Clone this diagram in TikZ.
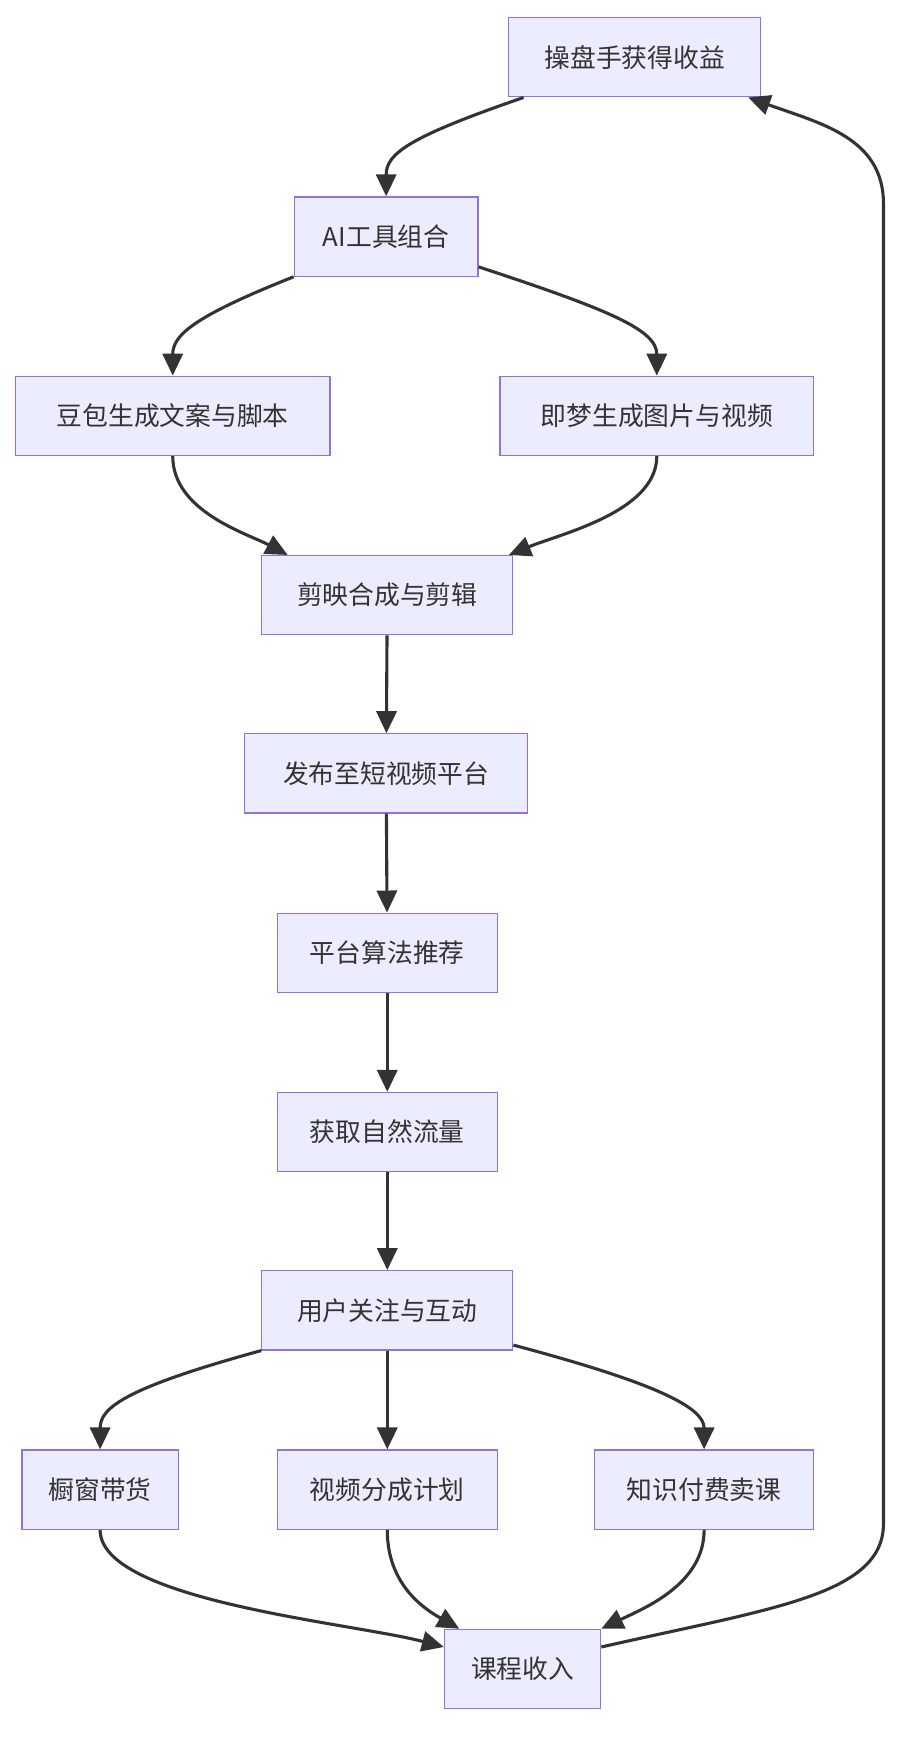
\documentclass[tikz,border=0pt]{standalone}
\usepackage{fontspec}
\setmainfont{Noto Sans CJK SC}
\usetikzlibrary{arrows.meta,calc}
\definecolor{boxfill}{HTML}{ECECFF}
\definecolor{boxline}{HTML}{9370DB}
\definecolor{edge}{HTML}{333333}
\tikzset{
 box/.style={draw=boxline,fill=boxfill,line width=1pt,minimum height=2.16cm,inner sep=0pt,font=\fontsize{20}{24}\selectfont,text=edge},
 link/.style={draw=edge,line width=2.4pt,-{Triangle[length=0.6cm,width=0.55cm]}}
}
\begin{document}
\begin{tikzpicture}[x=0.03cm,y=-0.03cm]
\useasboundingbox[fill=white] (0,0) rectangle (829,1587);
\node[box,minimum width=6.87cm] (A) at (577,52) {操盘手获得收益};
\node[box,minimum width=5.01cm] (B) at (351,215) {AI工具组合};
\node[box,minimum width=8.58cm] (C) at (157,378) {豆包生成文案与脚本};
\node[box,minimum width=8.55cm] (D) at (597,378) {即梦生成图片与视频};
\node[box,minimum width=6.84cm] (E) at (352,541) {剪映合成与剪辑};
\node[box,minimum width=7.71cm] (F) at (351,703) {发布至短视频平台};
\node[box,minimum width=6.0cm] (G) at (352,866) {平台算法推荐};
\node[box,minimum width=6.0cm] (H) at (352,1029) {获取自然流量};
\node[box,minimum width=6.84cm] (I) at (352,1191) {用户关注与互动};
\node[box,minimum width=4.26cm] (J) at (91,1354) {橱窗带货};
\node[box,minimum width=6.0cm] (K) at (352,1354) {视频分成计划};
\node[box,minimum width=5.97cm] (L) at (640,1354) {知识付费卖课};
\node[box,minimum width=4.26cm] (M) at (475,1517) {课程收入};
\draw[link] ($(A.south west)+(14,0)$) .. controls (370,125) and (351,140) .. (B.north);
\draw[link] (B.south west) .. controls (175,288) and (157,305) .. (C.north);
\draw[link] ($(B.south east)+(0,-9)$) .. controls (555,282) and (597,300) .. (D.north);
\draw[link] (C.south) .. controls (157,465) and (225,485) .. ($(E.north west)+(24,0)$);
\draw[link] (D.south) .. controls (597,465) and (510,485) .. ($(E.north east)+(-4,0)$);
\draw[link] (E) -- (F);
\draw[link] (F) -- (G);
\draw[link] (G) -- (H);
\draw[link] (H) -- (I);
\draw[link] (I.south west) .. controls (112,1262) and (91,1280) .. (J.north);
\draw[link] (I) -- (K);
\draw[link] ($(I.south east)+(0,-5)$) .. controls (600,1258) and (640,1280) .. (L.north);
\draw[link] (J.south) .. controls (91,1455) and (320,1475) .. ($(M.west)+(0,-20)$);
\draw[link] (K.south) .. controls (352,1440) and (385,1462) .. ($(M.north west)+(14,0)$);
\draw[link] (L.south) .. controls (640,1440) and (585,1462) .. (M.north east);
\draw[link] ($(M.east)+(0,-20)$) .. controls (700,1462) and (803,1450) .. (803,1385) -- (803,185) .. controls (803,125) and (745,112) .. ($(A.south east)+(-12,0)$);
\end{tikzpicture}
\end{document}
